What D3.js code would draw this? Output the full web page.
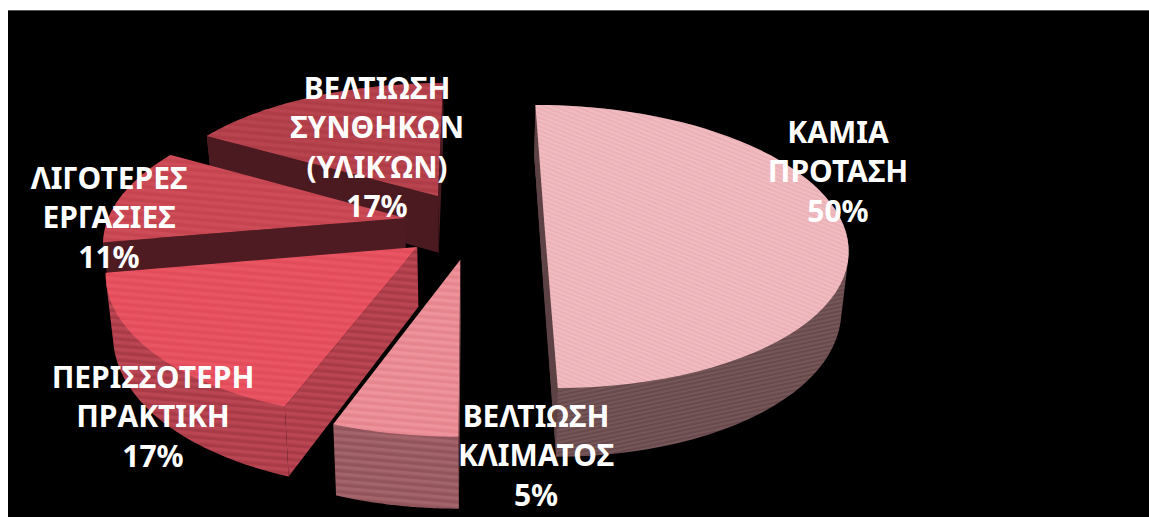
<!DOCTYPE html>
<html>
<head>
<meta charset="utf-8">
<script src="https://cdn.jsdelivr.net/npm/d3@7"></script>
<style>
  html, body { margin: 0; padding: 0; background: #fff; overflow: hidden; }
  svg { display: block; }
</style>
</head>
<body>
<svg id="chart" width="1149" height="517"></svg>
<script>
// values, in chart order (clockwise from 12 o'clock)
const categories = ['ΚΑΜΙΑ ΠΡΟΤΑΣΗ', 'ΒΕΛΤΙΩΣΗ ΚΛΙΜΑΤΟΣ', 'ΠΕΡΙΣΣΟΤΕΡΗ ΠΡΑΚΤΙΚΗ', 'ΛΙΓΟΤΕΡΕΣ ΕΡΓΑΣΙΕΣ', 'ΒΕΛΤΙΩΣΗ ΣΥΝΘΗΚΩΝ (ΥΛΙΚΏΝ)']
const values = [50, 5.6, 16.7, 11.1, 16.7]
const percentLabels = ['50%', '5%', '17%', '11%', '17%']
const labelLines = [
  ['ΚΑΜΙΑ', 'ΠΡΟΤΑΣΗ'],
  ['ΒΕΛΤΙΩΣΗ', 'ΚΛΙΜΑΤΟΣ'],
  ['ΠΕΡΙΣΣΟΤΕΡΗ', 'ΠΡΑΚΤΙΚΗ'],
  ['ΛΙΓΟΤΕΡΕΣ', 'ΕΡΓΑΣΙΕΣ'],
  ['ΒΕΛΤΙΩΣΗ', 'ΣΥΝΘΗΚΩΝ', '(ΥΛΙΚΏΝ)']
]

// styling and layout, per slice
const explodeX = [68, -15, -57, -71, -39]
const explodeZ = [13, 85, 59, -2, -51]
const topColors = [['#f0bcc1', '#ebb1b7'], ['#ee939b', '#e5868f'], ['#ea5563', '#e24c5b'], ['#ce4c58', '#c44450'], ['#b8444f', '#ae3d48']]
const wallColors = [['#755659', '#684a4d'], ['#a3646a', '#92555b'], ['#bb4653', '#a83b47'], ['#8c3039', '#7c2831'], ['#7d2a33', '#6e232b']]
const sideColors = ['#5d4245', '#8a4f55', '#b94450', '#4d1b21', '#4a1a20']
const labelX = [838, 536, 153, 109, 377]
const labelY = [143, 427, 388, 189, 99]

const R = 297, D = 1970, planeY = 905, wallH = 58, lowerScale = 0.98
const vanishX = 476, vanishY = -686

const svg = d3.select('#chart')
const defs = svg.append('defs')

svg.append('rect').attr('x', 8).attr('y', 10).attr('width', 1141).attr('height', 507).attr('fill', '#000')
svg.append('rect').attr('x', 8).attr('y', 10).attr('width', 1141).attr('height', 1).attr('fill', '#555')

function stripes (id, colors, size, angle) {
  const p = defs.append('pattern')
    .attr('id', id)
    .attr('patternUnits', 'userSpaceOnUse')
    .attr('width', 40)
    .attr('height', size)
    .attr('patternTransform', 'rotate(' + angle + ')')
  p.append('rect').attr('width', 40).attr('height', size).attr('fill', colors[0])
  p.append('rect').attr('y', size / 2).attr('width', 40).attr('height', size / 2).attr('fill', colors[1])
}

// pie plane -> screen, with a vanishing point far above the chart
function project (i, angle, radius, lower) {
  const X = explodeX[i] + radius * Math.sin(angle)
  const Z = explodeZ[i] - radius * Math.cos(angle)
  const w = 1 - Z / D
  const k = lower ? lowerScale : 1
  return [vanishX + k * X / w, vanishY + (planeY + (lower ? wallH : 0)) / w]
}

const line = d3.line().curve(d3.curveLinearClosed)
const arcs = d3.pie().sort(null).value(d => d)(values)

// back slices first
const order = [4, 3, 2, 1, 0]
const g = svg.append('g')

order.forEach(i => {
  const a = arcs[i]
  const big = i === 0
  stripes('top' + i, topColors[i], big ? 4 : 7, big ? 22 : 5)
  stripes('wall' + i, wallColors[i], big ? 4 : 7, big ? -12 : 5)

  const steps = d3.range(0, 61).map(d => a.startAngle + (a.endAngle - a.startAngle) * d / 60)
  const upper = steps.map(t => project(i, t, R, false))
  const lower = steps.map(t => project(i, t, R, true))
  const apex = project(i, 0, 0, false)
  const apexLow = project(i, 0, 0, true)

  const slice = g.append('g').attr('class', 'slice')

  // hull keeps the rim wall tangent to the top where it turns away
  slice.append('path')
    .attr('d', line(d3.polygonHull(upper.concat(lower))))
    .attr('fill', 'url(#wall' + i + ')')

  // the two cut faces, only where they face the viewer
  const startFace = [apex, upper[0], lower[0], apexLow]
  const endFace = [upper[60], apex, apexLow, lower[60]]
  ;[startFace, endFace].forEach(face => {
    if (d3.polygonArea(face) < 0) return
    slice.append('path')
      .attr('d', line(face))
      .attr('fill', i === 2 ? 'url(#wall2)' : sideColors[i])
  })

  slice.append('path')
    .attr('d', line([apex].concat(upper)))
    .attr('fill', 'url(#top' + i + ')')
})

const lineH = 39.3
const labels = svg.append('g')
  .attr('font-family', '"Noto Sans", sans-serif')
  .attr('font-weight', 700)
  .attr('font-size', 30)
  .attr('fill', '#fff')
  .attr('text-anchor', 'middle')

labelLines.forEach((lines, i) => {
  const t = labels.append('text').attr('aria-label', categories[i])
  lines.concat([percentLabels[i]]).forEach((s, j) => {
    t.append('tspan')
      .attr('x', labelX[i])
      .attr('y', labelY[i] + j * lineH)
      .text(s)
  })
})
</script>
</body>
</html>
